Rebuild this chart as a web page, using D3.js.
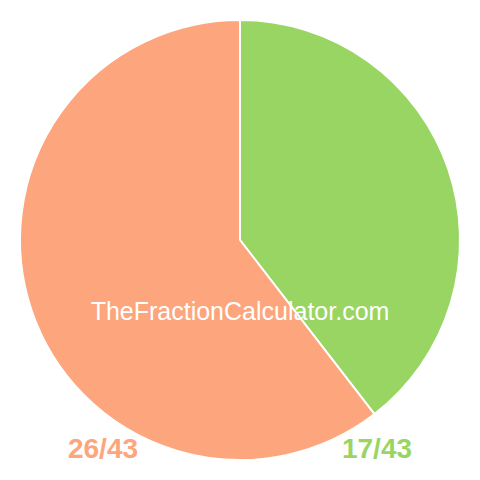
<!DOCTYPE html>
<html><head><meta charset="utf-8">
<script src="https://cdn.jsdelivr.net/npm/d3@7"></script>
<style>html,body{margin:0;padding:0;background:#fff;}</style>
</head><body>
<svg id="c" width="480" height="480"></svg>
<script>
const labels = ["17/43", "26/43"];
const values = [17, 26];
const colors = ["#99D563", "#FDA57C"];
const watermark = "TheFractionCalculator.com";

const svg = d3.select("#c");
const cx = 240, cy = 240, r = 220;
const g = svg.append("g").attr("transform", `translate(${cx},${cy})`);
const pie = d3.pie().sort(null).value(d => d)(values);
const arc = d3.arc().innerRadius(0).outerRadius(r);
g.selectAll("path").data(pie).enter().append("path")
  .attr("d", arc).attr("fill", (d, i) => colors[i])
  .attr("stroke", "#fff").attr("stroke-width", 2).attr("stroke-linejoin", "round");

svg.append("text").attr("x", 240).attr("y", 320).attr("text-anchor", "middle")
  .attr("font-family", "Liberation Sans, Arial, sans-serif").attr("font-size", 25)
  .attr("fill", "#fff").text(watermark);

const lx = d3.scaleOrdinal().domain(labels).range([377, 103]);
svg.selectAll("text.lab").data(labels).enter().append("text").attr("class", "lab")
  .attr("x", d => lx(d)).attr("y", 458).attr("text-anchor", "middle")
  .attr("font-family", "Liberation Sans, Arial, sans-serif").attr("font-weight", "bold")
  .attr("font-size", 28).attr("fill", (d, i) => colors[i]).text(d => d);
</script>
</body></html>
